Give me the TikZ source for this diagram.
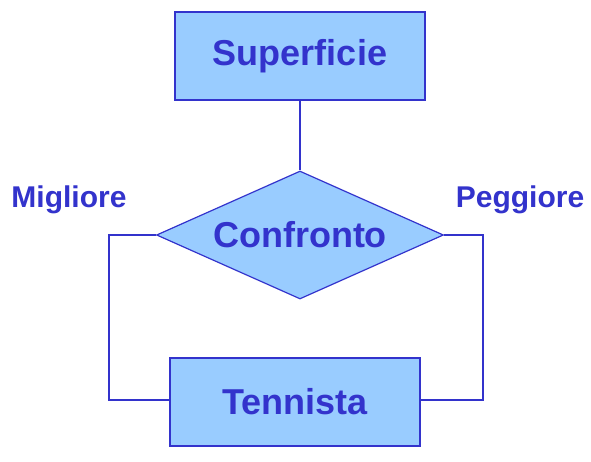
\documentclass[tikz,border=0pt]{standalone}
\usepackage{fontspec}
\setmainfont{Liberation Sans}
\usetikzlibrary{shapes.geometric}
\definecolor{fillblue}{HTML}{99CCFF}
\definecolor{inkblue}{HTML}{3333CC}
\begin{document}
\begin{tikzpicture}[x=1pt,y=-1pt,
  entity/.style={draw=inkblue,line width=1.2pt,fill=fillblue,minimum width=250pt,minimum height=88pt,inner sep=0pt,font=\fontsize{36}{40}\selectfont\bfseries,text=inkblue},
  rel/.style={diamond,draw=inkblue,line width=1.2pt,fill=fillblue,minimum width=287pt,minimum height=128pt,aspect=2.24,inner sep=0pt,font=\fontsize{36}{40}\selectfont\bfseries,text=inkblue},
  lbl/.style={font=\fontsize{30}{34}\selectfont\bfseries,text=inkblue,inner sep=0pt},
  conn/.style={draw=inkblue,line width=2.6pt}]
\useasboundingbox (0,0) rectangle (591,462);
\node[entity] (sup) at (300,56) {Superficie};
\node[rel] (conf) at (300,235) {Confronto};
\node[entity] (ten) at (295,402) {Tennista};
\coordinate (lt) at (109,235);
\coordinate (lb) at (109,400);
\coordinate (rt) at (483,235);
\coordinate (rb) at (483,400);
\node[lbl] (mig) at (69,200) {Migliore};
\node[lbl] (peg) at (520,200) {Peggiore};
\draw[conn] (sup.south) -- (conf.north);
\draw[conn] (conf.west) -- (lt) -- (lb) -- (ten.west |- lb);
\draw[conn] (conf.east) -- (rt) -- (rb) -- (ten.east |- rb);
\end{tikzpicture}
\end{document}
